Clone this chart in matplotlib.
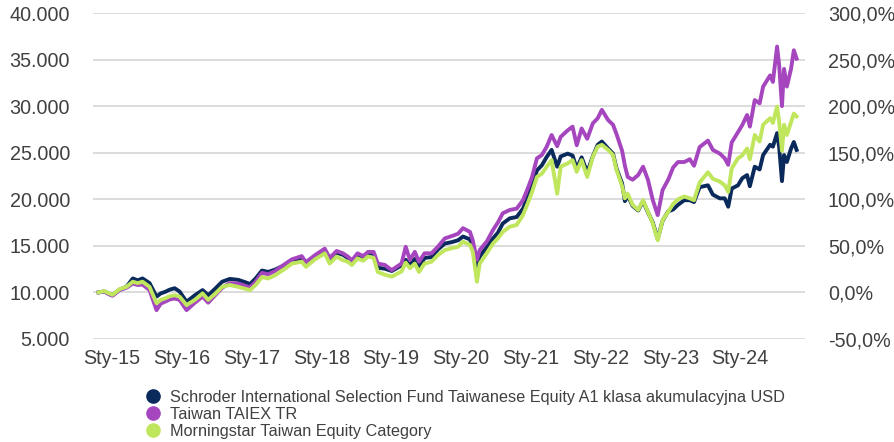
import matplotlib
matplotlib.use("Agg")
import matplotlib.pyplot as plt
from matplotlib.lines import Line2D
from matplotlib.ticker import FuncFormatter, FixedLocator

plt.rcParams['font.family'] = ['Liberation Sans', 'DejaVu Sans']

# ---- data (decimal years, value of 10 000 invested) ----
years = [2014.81, 2014.89, 2014.96, 2015.01, 2015.11, 2015.21, 2015.30, 2015.37, 2015.44, 2015.54,
         2015.64, 2015.70, 2015.76, 2015.83, 2015.90, 2015.97, 2016.07, 2016.19, 2016.30, 2016.38,
         2016.48, 2016.58, 2016.69, 2016.81, 2016.91, 2016.98, 2017.06, 2017.15, 2017.24, 2017.34,
         2017.48, 2017.58, 2017.72, 2017.78, 2017.91, 2018.05, 2018.12, 2018.22, 2018.31, 2018.38,
         2018.44, 2018.52, 2018.60, 2018.67, 2018.75, 2018.81, 2018.91, 2019.01, 2019.15, 2019.21,
         2019.27, 2019.34, 2019.40, 2019.48, 2019.58, 2019.67, 2019.77, 2019.87, 2019.96, 2020.03,
         2020.13, 2020.17, 2020.23, 2020.27, 2020.37, 2020.46, 2020.53, 2020.60, 2020.70, 2020.80,
         2020.89, 2020.96, 2021.02, 2021.09, 2021.16, 2021.23, 2021.30, 2021.38, 2021.43, 2021.53,
         2021.60, 2021.66, 2021.73, 2021.81, 2021.89, 2021.96, 2022.02, 2022.11, 2022.18, 2022.23,
         2022.31, 2022.35, 2022.39, 2022.46, 2022.54, 2022.61, 2022.68, 2022.75, 2022.82, 2022.89,
         2022.97, 2023.04, 2023.11, 2023.20, 2023.28, 2023.34, 2023.42, 2023.54, 2023.61, 2023.71,
         2023.78, 2023.83, 2023.88, 2023.97, 2024.03, 2024.10, 2024.14, 2024.21, 2024.28, 2024.33,
         2024.43, 2024.47, 2024.53, 2024.56, 2024.60, 2024.63, 2024.67, 2024.73, 2024.77, 2024.81]

fund = [10000, 10100, 9850, 9700, 10300, 10600, 11500, 11300, 11500, 11000,
        9550, 9900, 10050, 10300, 10450, 10100, 9000, 9700, 10250, 9700,
        10400, 11150, 11450, 11350, 11100, 10900, 11500, 12350, 12200, 12450,
        12950, 13500, 13650, 13100, 13850, 14450, 13500, 14250, 14050, 13700,
        13300, 14000, 13800, 14200, 14150, 12650, 12550, 12300, 12900, 13500,
        12900, 13600, 12700, 13700, 13800, 14600, 15250, 15400, 15600, 16000,
        15700, 14900, 12750, 13850, 14850, 15800, 16400, 17400, 17950, 18100,
        19000, 20300, 21500, 23100, 23650, 24550, 25300, 23500, 24600, 24900,
        24700, 23300, 24500, 22900, 24600, 25850, 26200, 25450, 24900, 23300,
        21700, 19800, 20400, 19300, 18800, 19800, 18600, 17500, 15750, 17700,
        18700, 18900, 19400, 19900, 19900, 19700, 21300, 21500, 20500, 20100,
        20100, 19200, 21150, 21500, 22250, 22600, 21400, 23500, 23200, 24750,
        25850, 25650, 27100, 25600, 21950, 24750, 24000, 25450, 26150, 25300]

taiex = [10000, 10100, 9800, 9650, 10250, 10500, 10950, 10800, 10850, 10250,
         8100, 8800, 9000, 9250, 9350, 9200, 8100, 8900, 9550, 8900,
         9700, 10500, 11000, 10950, 10700, 10550, 11150, 12100, 11950, 12300,
         13050, 13550, 13900, 13250, 14000, 14700, 13700, 14450, 14200, 13850,
         13450, 14200, 13900, 14350, 14350, 13100, 12950, 12400, 13100, 14900,
         13500, 14350, 13300, 14200, 14200, 14900, 15800, 16050, 16300, 16900,
         16500, 15600, 13500, 14550, 15450, 16700, 17500, 18500, 18850, 19000,
         19900, 21200, 22400, 24400, 24750, 25650, 26900, 25700, 26700, 27400,
         27800, 25800, 27600, 26500, 28150, 28700, 29600, 28500, 28000, 27000,
         25200, 23600, 22400, 22100, 22600, 23500, 22100, 19900, 18300, 21000,
         22100, 23400, 24000, 24000, 24300, 23600, 25600, 26300, 25300, 24900,
         24400, 23700, 26100, 27200, 27950, 29050, 27800, 30650, 30300, 32100,
         33300, 32600, 36400, 34400, 30000, 34000, 32100, 34000, 36000, 35100]

category = [10000, 10150, 9900, 9750, 10350, 10600, 11150, 11000, 11150, 10600,
            8850, 9200, 9350, 9600, 9700, 9550, 8650, 9200, 9900, 9200,
            9850, 10600, 10800, 10600, 10400, 10250, 10800, 11650, 11500, 11850,
            12550, 13100, 13300, 12750, 13550, 14200, 13100, 13850, 13450, 13300,
            12950, 13650, 13400, 13850, 13700, 12200, 11900, 11700, 12250, 13200,
            12600, 13100, 12200, 13100, 13300, 14000, 14550, 14750, 14900, 15450,
            15100, 14400, 11150, 13100, 14200, 15250, 15800, 16500, 17050, 17250,
            18300, 19600, 20800, 22400, 22750, 23500, 24200, 20600, 23500, 23850,
            24200, 22950, 24200, 22400, 24550, 25650, 25850, 25300, 24750, 23150,
            21400, 20100, 20600, 19400, 18850, 19900, 18650, 17400, 15600, 17750,
            18650, 19500, 20000, 20300, 20100, 19900, 21800, 22900, 22200, 21900,
            21500, 20800, 23300, 24400, 24700, 25450, 24300, 26900, 26200, 28000,
            28700, 28200, 29950, 28300, 25200, 28000, 26900, 28300, 29200, 28900]

series_names = ["Schroder International Selection Fund Taiwanese Equity A1 klasa akumulacyjna USD",
                "Taiwan TAIEX TR",
                "Morningstar Taiwan Equity Category"]
tick_years = [2015, 2016, 2017, 2018, 2019, 2020, 2021, 2022, 2023, 2024]
tick_labels = ["Sty-15", "Sty-16", "Sty-17", "Sty-18", "Sty-19",
               "Sty-20", "Sty-21", "Sty-22", "Sty-23", "Sty-24"]
left_ticks = [5000, 10000, 15000, 20000, 25000, 30000, 35000, 40000]

# ---- styling ----
colors = ["#0b2a5c", "#a546bf", "#bfe65c"]
text_color = "#404040"
W, H = 895, 442

fig = plt.figure(figsize=(W / 100, H / 100), dpi=100)
ax = fig.add_axes([93 / W, 1 - 339 / H, (805 - 93) / W, (339 - 13) / H])

for vals, c in zip([fund, taiex, category], colors):
    ax.plot(years, vals, color=c, lw=2.8, solid_joinstyle='round', zorder=3)

ax.set_xlim(2014.73, 2024.93)
ax.set_ylim(5000, 40000)
ax.yaxis.set_major_locator(FixedLocator(left_ticks))
ax.yaxis.set_major_formatter(FuncFormatter(lambda v, p: f"{int(v):,}".replace(",", ".")))
ax.set_xticks(tick_years)
ax.set_xticklabels(tick_labels)
ax.grid(axis='y', color="#d9d9d9", lw=1.3, zorder=0)
ax.set_axisbelow(True)
for s in ax.spines.values():
    s.set_visible(False)
ax.tick_params(axis='both', length=0, labelsize=14.2, colors=text_color)
ax.tick_params(axis='y', pad=16.5)
ax.tick_params(axis='x', pad=7.5)

ax2 = ax.twinx()
lo, hi = ax.get_ylim()
ax2.set_ylim((lo / 10000 - 1) * 100, (hi / 10000 - 1) * 100)
ax2.yaxis.set_major_locator(FixedLocator([(t / 10000 - 1) * 100 for t in left_ticks]))
ax2.yaxis.set_major_formatter(FuncFormatter(lambda v, p: f"{v:.1f}%".replace(".", ",")))
for s in ax2.spines.values():
    s.set_visible(False)
ax2.tick_params(axis='y', length=0, labelsize=14.2, colors=text_color, pad=16.5)

handles = [Line2D([], [], marker='o', linestyle='None', color=c, markersize=9.5) for c in colors]
leg = fig.legend(handles, series_names, loc='upper left',
                 bbox_to_anchor=(143 / W, 1 - 390 / H), frameon=False,
                 fontsize=11.7, handletextpad=0.46, labelspacing=0.11,
                 borderpad=0, handlelength=1.2, borderaxespad=0)
for t in leg.get_texts():
    t.set_color(text_color)

fig.savefig("out.png", dpi=100)
